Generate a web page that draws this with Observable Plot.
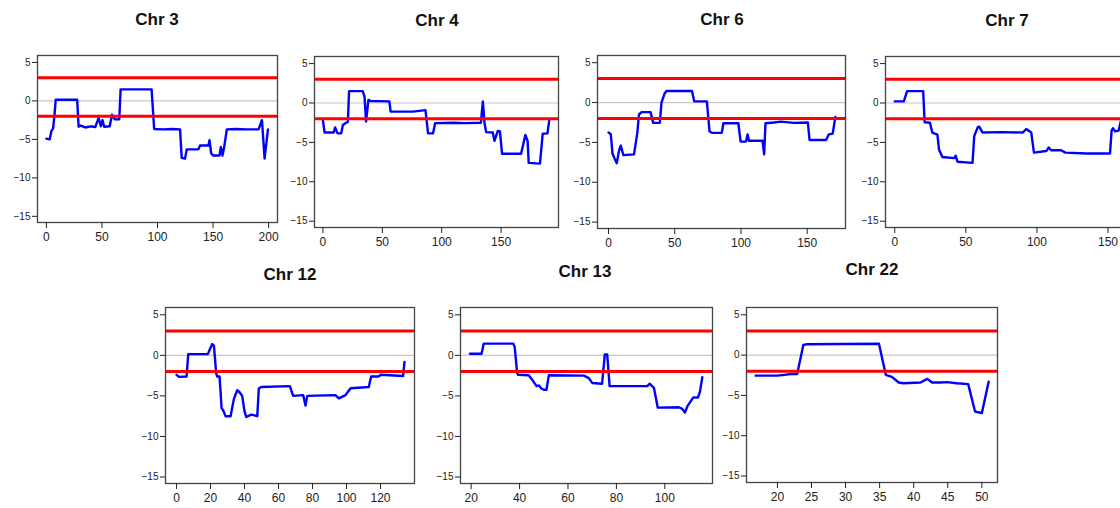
<!DOCTYPE html>
<html>
<head>
<meta charset="utf-8">
<script src="https://cdn.jsdelivr.net/npm/d3@7"></script>
<script src="https://cdn.jsdelivr.net/npm/@observablehq/plot@0.6"></script>
<style>
  html, body { margin: 0; padding: 0; background: #fff; overflow: hidden; }
  #chart { position: relative; width: 1120px; height: 508px; overflow: hidden; font-family: Arial, "Liberation Sans", sans-serif; }
  .panel { position: absolute; }
  .title { position: absolute; transform: translate(-50%, -50%); font-weight: bold; font-size: 17px; color: #111; white-space: nowrap; }
</style>
</head>
<body>
<div id="chart"></div>
<script>
// Log-ratio profiles along each chromosome (position in Mb, score)
const chr3X = [0, 3, 4.5, 6, 7.2, 8.4, 27.7, 29, 31, 35, 40, 44, 47, 49, 50.5, 52, 57, 59, 61.6, 65.6, 66.8, 94.7, 97, 105, 113, 120.3, 121.8, 124.8, 126.3, 136.8, 138.3, 145.9, 146.8, 148.3, 150, 155.8, 157, 158.5, 160, 162.4, 170, 180, 191, 194, 196.4, 199.4];
const chr3Y = [-4.9, -5.0, -3.9, -3.6, -2.0, 0.15, 0.15, -3.35, -3.2, -3.45, -3.3, -3.4, -2.2, -3.3, -2.5, -3.35, -3.3, -1.8, -2.4, -2.4, 1.5, 1.5, -3.65, -3.7, -3.65, -3.7, -7.4, -7.5, -6.3, -6.3, -5.8, -5.8, -5.1, -6.8, -7.1, -7.1, -6.0, -7.1, -6.0, -3.7, -3.65, -3.7, -3.7, -2.5, -7.5, -3.7];

const chr4X = [0, 1.4, 9, 10.3, 12.3, 15.4, 16.8, 19.5, 21, 22, 33.5, 35, 36.3, 38.3, 40, 55.9, 57, 76, 86.3, 88.5, 92.7, 94.5, 110, 120, 133, 134.6, 136, 137.4, 143, 144.4, 147.2, 149, 150.8, 166.8, 170.4, 172.3, 173.2, 182.7, 185, 189, 190.5];
const chr4Y = [-2.2, -3.75, -3.75, -3.1, -3.85, -3.85, -2.8, -2.5, -2.4, 1.5, 1.5, 0.8, -2.35, 0.4, 0.25, 0.2, -1.1, -1.1, -0.9, -3.85, -3.85, -2.55, -2.5, -2.55, -2.5, 0.2, -2.5, -3.7, -3.75, -4.8, -3.55, -3.6, -6.45, -6.45, -4.05, -4.8, -7.6, -7.7, -3.9, -3.85, -2.2];

const chr6X = [0, 1.75, 3, 4.25, 6.25, 8, 9.25, 11.25, 19.25, 21.75, 23, 25, 31.75, 33.75, 38.75, 40, 42.25, 43.75, 63, 64.75, 74.25, 76.25, 78, 85.5, 86.75, 98, 99.75, 103.75, 105, 106, 116.25, 117.5, 118.5, 125, 130, 140, 150.5, 151.75, 164.25, 166.25, 169.25, 171.25];
const chr6Y = [-3.75, -4.0, -6.4, -6.9, -7.6, -6.0, -5.4, -6.6, -6.5, -3.8, -1.5, -1.2, -1.2, -2.55, -2.55, 0.0, 1.1, 1.45, 1.45, 0.15, 0.15, -3.6, -3.8, -3.8, -2.6, -2.6, -4.9, -4.9, -4.0, -4.8, -4.8, -6.5, -2.6, -2.5, -2.4, -2.55, -2.5, -4.7, -4.7, -4.0, -3.9, -1.8];

const chr7X = [0, 6.4, 8.7, 20, 21, 24.8, 26.4, 30, 31.1, 33.5, 41.7, 42.9, 44.1, 54.7, 55.9, 58.3, 59.4, 61.8, 75, 90, 92.5, 96, 97.9, 106.6, 108.3, 110, 117, 120, 135, 151.4, 152.5, 153.5, 155, 157.5, 159, 160];
const chr7Y = [0.2, 0.2, 1.5, 1.5, -2.45, -2.5, -3.75, -4.0, -5.9, -6.85, -7.0, -6.7, -7.45, -7.6, -4.2, -3.1, -3.0, -3.75, -3.7, -3.75, -3.3, -3.75, -6.3, -6.1, -5.65, -6.0, -6.0, -6.3, -6.4, -6.4, -3.5, -3.2, -3.6, -3.5, -2.3, -2.0];

const chr12X = [0, 1.4, 5.9, 6.9, 18.4, 19.6, 21, 22, 23.3, 23.9, 25.3, 26.5, 27.5, 28.8, 31.8, 33.7, 35.7, 37.1, 38.6, 40, 41, 44, 47.5, 48.4, 49.8, 66.7, 68.6, 74.5, 75.9, 76.9, 93.5, 95.5, 99.4, 102.4, 113.1, 114.5, 119, 120, 133.3, 134.1];
const chr12Y = [-2.4, -2.65, -2.6, 0.15, 0.15, 0.75, 1.4, 1.2, -2.2, -2.6, -2.6, -6.5, -6.8, -7.5, -7.5, -5.4, -4.3, -4.55, -5.0, -6.9, -7.6, -7.3, -7.5, -4.1, -3.9, -3.8, -5.0, -4.9, -6.2, -5.0, -4.9, -5.3, -4.9, -4.05, -3.9, -2.6, -2.6, -2.4, -2.55, -0.8];

const chr13X = [19.5, 24.3, 25.2, 37.4, 38, 39, 39.4, 43.8, 45.2, 47, 48, 48.9, 50, 51.1, 52.1, 66.6, 68.6, 70, 74.1, 75.2, 76.2, 77.2, 92.7, 93.8, 95.5, 97.1, 105.8, 107.2, 108.3, 109.3, 110.4, 111.7, 113.7, 114.5, 115.5];
const chr13Y = [0.2, 0.2, 1.45, 1.45, 1.0, -2.2, -2.4, -2.45, -3.0, -3.8, -3.7, -4.05, -4.25, -4.25, -2.45, -2.5, -2.8, -3.4, -3.5, 0.1, 0.1, -3.8, -3.8, -3.5, -4.0, -6.45, -6.4, -6.6, -7.05, -6.3, -5.8, -5.2, -5.2, -4.5, -2.7];

const chr22X = [16.8, 20, 21, 22, 22.9, 23.8, 24.4, 34.9, 35.9, 36.8, 37.8, 38.5, 41, 42, 42.7, 43.9, 44.9, 46.3, 48, 49, 50, 51];
const chr22Y = [-2.55, -2.55, -2.45, -2.35, -2.35, 1.25, 1.35, 1.4, -2.45, -2.7, -3.4, -3.5, -3.4, -2.95, -3.4, -3.4, -3.35, -3.5, -3.6, -7.0, -7.2, -3.3];

// Panel titles and axis ticks
const chrNames = ["Chr 3", "Chr 4", "Chr 6", "Chr 7", "Chr 12", "Chr 13", "Chr 22"];
const xTickSets = [
  [0, 50, 100, 150, 200],
  [0, 50, 100, 150],
  [0, 50, 100, 150],
  [0, 50, 100, 150],
  [0, 20, 40, 60, 80, 100, 120],
  [20, 40, 60, 80, 100],
  [20, 25, 30, 35, 40, 45, 50]
];
const yTicks = [-15, -10, -5, 0, 5];
const thresholds = [3, -2];
const baseline = [0];

const seriesX = [chr3X, chr4X, chr6X, chr7X, chr12X, chr13X, chr22X];
const seriesY = [chr3Y, chr4Y, chr6Y, chr7Y, chr12Y, chr13Y, chr22Y];

// Layout: plot box in page pixels, x extent, title centre
const layout = [
  {box: [37, 55, 277, 222],   xd: [-8, 208],     title: [157, 20]},
  {box: [314, 56, 558, 227],  xd: [-7.1, 198.3], title: [437, 21]},
  {box: [597, 55, 845, 228],  xd: [-8.3, 178.9], title: [722, 20]},
  {box: [885, 56, 1131, 227], xd: [-6.5, 166.5], title: [1007, 21]},
  {box: [165, 307, 414, 483], xd: [-6.5, 140],   title: [290, 275]},
  {box: [460, 307, 712, 483], xd: [15.6, 119.7], title: [585, 272]},
  {box: [746, 307, 997, 482], xd: [15.46, 52.3], title: [872, 270]}
];
const yDomain = [-15.8, 5.9];

const ml = 34, mr = 3, mt = 3, mb = 30;
const chart = document.getElementById("chart");

layout.forEach((L, i) => {
  const [x0, y0, x1, y1] = L.box;
  const data = seriesX[i].map((x, j) => ({x, y: seriesY[i][j]}));
  const svg = Plot.plot({
    width: (x1 - x0) + ml + mr,
    height: (y1 - y0) + mt + mb,
    marginLeft: ml, marginRight: mr, marginTop: mt, marginBottom: mb,
    style: {fontFamily: 'Arial, "Liberation Sans", sans-serif', color: "#222", background: "transparent", overflow: "visible"},
    x: {domain: L.xd},
    y: {domain: yDomain},
    marks: [
      Plot.ruleY(baseline, {stroke: "#c8c8c8", strokeWidth: 1.2}),
      Plot.line(data, {x: "x", y: "y", stroke: "#0000ff", strokeWidth: 2.4, curve: "linear", clip: true}),
      Plot.ruleY(thresholds, {stroke: "#ff0000", strokeWidth: 3}),
      Plot.frame({stroke: "#444", strokeWidth: 1.3}),
      Plot.axisY({ticks: yTicks, tickSize: 5, tickPadding: 2, fontSize: 10, label: null}),
      Plot.axisX({ticks: xTickSets[i], tickSize: 6, tickPadding: 4, fontSize: 12, label: null})
    ]
  });
  svg.classList.add("panel");
  svg.style.left = (x0 - ml) + "px";
  svg.style.top = (y0 - mt) + "px";
  chart.appendChild(svg);

  const t = document.createElement("div");
  t.className = "title";
  t.textContent = chrNames[i];
  t.style.left = L.title[0] + "px";
  t.style.top = L.title[1] + "px";
  chart.appendChild(t);
});
</script>
</body>
</html>
